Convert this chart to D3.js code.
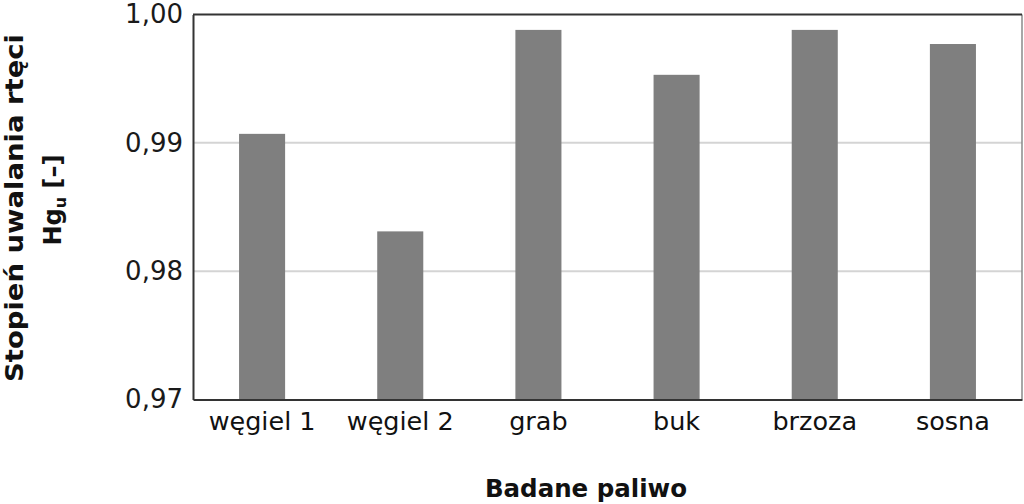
<!DOCTYPE html>
<html><head><meta charset="utf-8">
<script src="https://cdn.jsdelivr.net/npm/d3@7"></script>
<style>
body{margin:0;background:#fff;}
svg{display:block;font-family:"DejaVu Sans",sans-serif;}
</style></head>
<body>
<svg id="c" width="1024" height="504"></svg>
<script>
const categories = ["węgiel 1","węgiel 2","grab","buk","brzoza","sosna"];
const values = [0.9907, 0.9831, 0.9988, 0.9953, 0.9988, 0.9977];
const yTicks = [0.97, 0.98, 0.99, 1.00];

const svg = d3.select("#c");
const m = {l:193, r:1022, t:14.5, b:399.5};
const x = d3.scaleBand().domain(categories).range([m.l, m.r]).padding(0);
const y = d3.scaleLinear().domain([0.97, 1.00]).range([m.b, m.t]);

// gridlines
svg.append("g").selectAll("line").data(yTicks.slice(1,3)).join("line")
  .attr("x1", m.l).attr("x2", m.r)
  .attr("y1", d=>y(d)).attr("y2", d=>y(d))
  .attr("stroke","#d4d4d4").attr("stroke-width",2);

// bars
const bw = x.bandwidth()/3;
svg.append("g").selectAll("rect").data(values).join("rect")
  .attr("x",(d,i)=>x(categories[i]) + bw)
  .attr("width", bw)
  .attr("y", d=>y(d))
  .attr("height", d=>y(0.97)-y(d))
  .attr("fill","#7f7f7f");

// frame
svg.append("line").attr("x1",m.r).attr("x2",m.r).attr("y1",m.t).attr("y2",m.b).attr("stroke","#8a8a8a").attr("stroke-width",1.5);
svg.append("line").attr("x1",m.l).attr("x2",m.r).attr("y1",m.t).attr("y2",m.t).attr("stroke","#333").attr("stroke-width",2);

// y axis
const ya = d3.axisLeft(y).tickValues(yTicks).tickSize(0).tickPadding(10)
  .tickFormat(d=>d3.format(".2f")(d).replace(".",","));
const yg = svg.append("g").attr("transform",`translate(${m.l},0)`).call(ya);
yg.select(".domain").attr("stroke","#333").attr("stroke-width",2);
yg.selectAll("text").attr("font-size",26).attr("fill","#1a1a1a").attr("font-family","DejaVu Sans");

// x axis
const xa = d3.axisBottom(x).tickSize(0).tickPadding(12);
const xg = svg.append("g").attr("transform",`translate(0,${m.b})`).call(xa);
xg.select(".domain").attr("stroke","#333").attr("stroke-width",2);
xg.selectAll("text").attr("font-size",25.5).attr("fill","#111").attr("font-family","DejaVu Sans");

// titles
svg.append("text").attr("x",586).attr("y",497).attr("text-anchor","middle")
  .attr("font-size",24.5).attr("font-weight","bold").attr("fill","#111").text("Badane paliwo");

const yt = svg.append("g").attr("transform","translate(0,208) rotate(-90)");
yt.append("text").attr("x",0).attr("y",23).attr("text-anchor","middle")
  .attr("font-size",25.5).attr("font-weight","bold").attr("fill","#111")
  .attr("textLength",348).attr("lengthAdjust","spacingAndGlyphs").text("Stopień uwalania rtęci");
const t2 = yt.append("text").attr("x",8).attr("y",61).attr("text-anchor","middle")
  .attr("font-size",24).attr("font-weight","bold").attr("fill","#111");
t2.append("tspan").text("Hg");
t2.append("tspan").attr("font-size",16).attr("dy",5).text("u");
t2.append("tspan").attr("dy",-5).text(" [–]");
</script>
</body></html>
